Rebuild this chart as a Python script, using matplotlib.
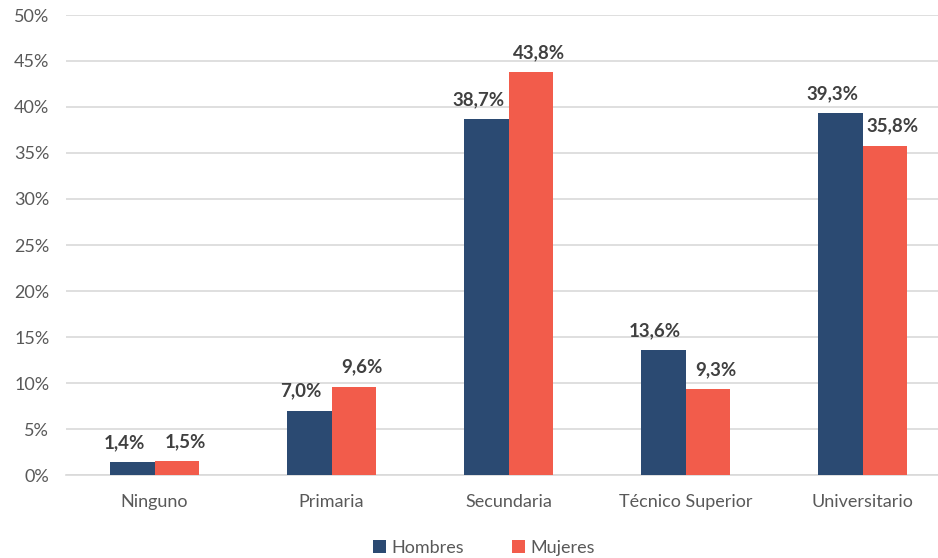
import numpy as np
import matplotlib.pyplot as plt

categorias = ['Ninguno', 'Primaria', 'Secundaria', 'Técnico Superior', 'Universitario']
hombres = [1.4, 7.0, 38.7, 13.6, 39.3]
mujeres = [1.5, 9.6, 43.8, 9.3, 35.8]
etiquetas_h = ['1,4%', '7,0%', '38,7%', '13,6%', '39,3%']
etiquetas_m = ['1,5%', '9,6%', '43,8%', '9,3%', '35,8%']

plt.rcParams['font.family'] = ['Lato', 'DejaVu Sans']

c_h = '#2b4a72'
c_m = '#f25c4b'
gris = '#595959'

fig = plt.figure(figsize=(9.38, 5.58), dpi=100)
ax = fig.add_axes([66 / 938, 83 / 558, 885 / 938, 460 / 558])

x = np.arange(len(categorias))
w = 0.25
bh = ax.bar(x - w / 2, hombres, w, color=c_h, label='Hombres', zorder=3)
bm = ax.bar(x + w / 2, mujeres, w, color=c_m, label='Mujeres', zorder=3)

for b, t in zip(bh, etiquetas_h):
    ax.annotate(t, (b.get_x() + b.get_width() / 2, b.get_height()), xytext=(-6, 8),
                textcoords='offset points', ha='center', va='bottom',
                fontsize=13.5, fontweight='bold', color='#404040')
for b, t in zip(bm, etiquetas_m):
    ax.annotate(t, (b.get_x() + b.get_width() / 2, b.get_height()), xytext=(6, 8),
                textcoords='offset points', ha='center', va='bottom',
                fontsize=13.5, fontweight='bold', color='#404040')

ax.set_xlim(-0.5, 4.5)
ax.set_ylim(0, 50)
ax.set_yticks(range(0, 51, 5))
ax.set_yticklabels([f'{v}%' for v in range(0, 51, 5)])
ax.set_xticks(x)
ax.set_xticklabels(categorias)
ax.tick_params(axis='both', length=0, labelsize=13, colors=gris)
ax.tick_params(axis='x', pad=14)
ax.tick_params(axis='y', pad=12)
ax.grid(axis='y', color='#d9d9d9', linewidth=1.2, zorder=0)
for s in ['top', 'right', 'left']:
    ax.spines[s].set_visible(False)
ax.spines['bottom'].set_color('#d9d9d9')
ax.spines['bottom'].set_linewidth(1.2)

fig.legend(handles=[bh, bm], labels=['Hombres', 'Mujeres'], loc='lower center',
           bbox_to_anchor=(484 / 938, -0.025), ncol=2, frameon=False, fontsize=13,
           labelcolor=gris, handlelength=0.7, handleheight=0.7, columnspacing=2.7,
           handletextpad=0.3)

fig.savefig('out.png', dpi=100)
